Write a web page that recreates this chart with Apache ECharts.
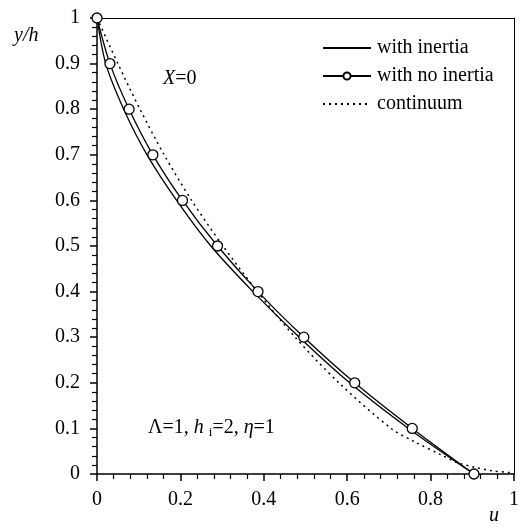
<!DOCTYPE html>
<html>
<head>
<meta charset="utf-8">
<title>u profile</title>
<script src="https://cdn.jsdelivr.net/npm/echarts@6/dist/echarts.min.js"></script>
</head>
<body style="margin:0;background:#fff">
<div id="main" style="width:522px;height:528px;"></div>
<script>
// y/h levels shared by the two model curves
var yLevels = [1, 0.9, 0.8, 0.7, 0.6, 0.5, 0.4, 0.3, 0.2, 0.1, 0];
var uInertia = [0, 0.021, 0.064, 0.12, 0.191, 0.273, 0.374, 0.485, 0.606, 0.747, 0.904];
var uNoInertia = [0, 0.031, 0.077, 0.134, 0.205, 0.289, 0.386, 0.496, 0.618, 0.756, 0.904];
// continuum solution
var yContinuum = [1, 0.9, 0.8, 0.7, 0.6, 0.5, 0.4, 0.3, 0.2, 0.1, 0.071, 0.042, 0.025, 0.015, 0.007, 0.003, 0];
var uContinuum = [0, 0.05, 0.103, 0.161, 0.227, 0.302, 0.385, 0.475, 0.58, 0.705, 0.761, 0.825, 0.864, 0.904, 0.948, 0.99, 1];

var serif = "'Liberation Serif', 'Times New Roman', serif";
var fs = 20;

function pairs(us, ys) {
    var res = [];
    for (var i = 0; i < us.length; i++) res.push([us[i], ys[i]]);
    return res;
}

function makeAxis(interval, margin) {
    return {
        type: 'value',
        min: 0,
        max: 1,
        interval: interval,
        axisLine: { show: true, onZero: false, lineStyle: { color: '#000', width: 1.5 } },
        axisTick: { show: true, length: 7, lineStyle: { color: '#000', width: 1.5 } },
        minorTick: { show: true, splitNumber: 5, length: 5, lineStyle: { color: '#000', width: 1.2 } },
        splitLine: { show: false },
        axisLabel: { color: '#000', fontSize: fs, fontFamily: serif, margin: margin }
    };
}

// plain frame line for the top and right edges
function frameAxis(pos) {
    return {
        type: 'value', min: 0, max: 1, position: pos,
        axisLine: { show: true, onZero: false, lineStyle: { color: '#000', width: 1 } },
        axisTick: { show: false },
        axisLabel: { show: false },
        splitLine: { show: false }
    };
}

var chart = echarts.init(document.getElementById('main'));

var option = {
    animation: false,
    grid: { left: 97, right: 5, top: 18, bottom: 54 },
    xAxis: [makeAxis(0.2, 16), frameAxis('top')],
    yAxis: [makeAxis(0.1, 17), frameAxis('right')],
    legend: {
        orient: 'vertical',
        left: 317,
        top: 33,
        itemWidth: 48,
        itemHeight: 9,
        itemGap: 8,
        textStyle: { fontSize: fs, fontFamily: serif, color: '#000', lineHeight: 20, padding: [0, 0, 0, 1] },
        data: ['with inertia', 'with no inertia', 'continuum']
    },
    series: [
        {
            name: 'with inertia', type: 'line', smooth: 0.3, symbol: 'none',
            lineStyle: { color: '#000', width: 1.3 },
            itemStyle: { color: 'rgba(0,0,0,0)' },
            data: pairs(uInertia, yLevels)
        },
        {
            name: 'with no inertia', type: 'line', smooth: 0.3,
            symbol: 'circle', symbolSize: 10,
            lineStyle: { color: '#000', width: 1.3 },
            itemStyle: { color: '#fff', borderColor: '#000', borderWidth: 1.3 },
            data: pairs(uNoInertia, yLevels),
            z: 3
        },
        {
            name: 'continuum', type: 'line', smooth: 0.3, symbol: 'none',
            lineStyle: { color: '#000', width: 1.5, type: [2, 4] },
            itemStyle: { color: 'rgba(0,0,0,0)' },
            data: pairs(uContinuum, yContinuum)
        }
    ],
    graphic: [
        { type: 'text', left: 14, top: 26, style: { text: 'y/h', font: 'italic 20px ' + serif, fill: '#000' } },
        { type: 'text', left: 489, top: 506, style: { text: 'u', font: 'italic 20px ' + serif, fill: '#000' } },
        {
            type: 'text', left: 163, top: 69,
            style: {
                text: '{i|X}{n|=0}', fill: '#000',
                rich: {
                    i: { fontStyle: 'italic', fontSize: fs, fontFamily: serif },
                    n: { fontSize: fs, fontFamily: serif }
                }
            }
        },
        {
            type: 'text', left: 148, top: 418,
            style: {
                text: '{n|Λ=1, }{i|h }{s|i}{n|=2, }{i|η}{n|=1}', fill: '#000',
                rich: {
                    i: { fontStyle: 'italic', fontSize: fs, fontFamily: serif, lineHeight: 22 },
                    n: { fontSize: fs, fontFamily: serif, lineHeight: 22 },
                    s: { fontSize: 13, fontFamily: serif, lineHeight: 22, verticalAlign: 'bottom', padding: [7, 0, 0, 0] }
                }
            }
        }
    ]
};
chart.setOption(option);
</script>
</body>
</html>
